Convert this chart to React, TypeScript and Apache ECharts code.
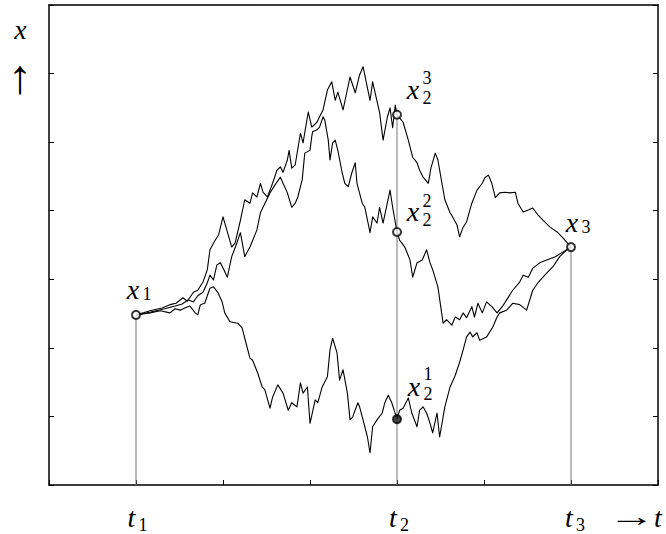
import { useEffect, useRef } from 'react';
import * as echarts from 'echarts';

// time axis: t1 = 1, t2 = 4, t3 = 6 ; vertical axis in tick units (ticks at 1..6)
const timeMarks = [1, 4, 6];
const timeMarkLabels = ['1', '2', '3'];

// the three sample paths from x1 (at t1) through x2^i (at t2) to x3 (at t3)
const pathUpper: number[][] = [
  [1.00, 2.48], [1.16, 2.54], [1.30, 2.58], [1.39, 2.63], [1.46, 2.65], [1.54, 2.73], [1.59, 2.68],
  [1.66, 2.81], [1.71, 2.84], [1.77, 2.96], [1.82, 3.14], [1.85, 3.43], [1.91, 3.57], [1.95, 3.65],
  [2.00, 3.91], [2.05, 3.69], [2.10, 3.47], [2.14, 3.53], [2.20, 3.86], [2.25, 4.16], [2.31, 4.11],
  [2.34, 4.26], [2.39, 4.20], [2.43, 4.40], [2.46, 4.27], [2.51, 4.20], [2.54, 4.30], [2.57, 4.40],
  [2.62, 4.59], [2.66, 4.64], [2.69, 4.56], [2.74, 4.74], [2.76, 4.88], [2.79, 4.62], [2.83, 4.67],
  [2.89, 5.13], [2.92, 4.99], [2.98, 5.44], [3.02, 5.22], [3.08, 5.29], [3.11, 5.37], [3.15, 5.47],
  [3.20, 5.76], [3.25, 5.88], [3.29, 5.61], [3.32, 5.73], [3.38, 5.47], [3.46, 5.95], [3.52, 5.72],
  [3.57, 5.98], [3.61, 6.10], [3.66, 5.79], [3.69, 5.61], [3.72, 5.88], [3.80, 5.43], [3.84, 5.03],
  [3.89, 5.37], [3.92, 5.50], [3.95, 5.21], [3.98, 5.54], [4.00, 5.40],
  [4.07, 5.29], [4.13, 5.03], [4.18, 4.78], [4.23, 4.70], [4.26, 4.59], [4.30, 4.49], [4.36, 4.40],
  [4.39, 4.62], [4.44, 4.84], [4.47, 4.74], [4.51, 4.45], [4.55, 4.16], [4.61, 3.97], [4.64, 3.91],
  [4.69, 3.79], [4.72, 3.62], [4.76, 3.76], [4.80, 3.84], [4.86, 4.11], [4.92, 4.30], [4.98, 4.40],
  [5.01, 4.48], [5.05, 4.52], [5.09, 4.40], [5.13, 4.19], [5.18, 4.26], [5.24, 4.27], [5.30, 4.26],
  [5.36, 4.27], [5.39, 4.11], [5.45, 3.98], [5.51, 4.01], [5.56, 4.04], [5.62, 3.94], [5.68, 3.86],
  [5.76, 3.76], [5.84, 3.69], [5.91, 3.60], [6.00, 3.47],
];

const pathMiddle: number[][] = [
  [1.00, 2.48], [1.16, 2.52], [1.33, 2.57], [1.45, 2.61], [1.53, 2.64], [1.60, 2.70], [1.66, 2.67],
  [1.71, 2.76], [1.77, 2.81], [1.82, 2.95], [1.85, 3.06], [1.89, 2.99], [1.93, 3.21], [1.97, 3.24],
  [2.01, 3.14], [2.05, 3.03], [2.10, 3.33], [2.16, 3.53], [2.20, 3.68], [2.25, 3.33], [2.31, 3.47],
  [2.39, 3.72], [2.43, 3.97], [2.46, 4.05], [2.54, 4.26], [2.60, 4.38], [2.66, 4.49], [2.69, 4.40],
  [2.74, 4.26], [2.79, 4.05], [2.83, 4.11], [2.86, 4.20], [2.91, 4.45], [2.94, 4.84], [3.00, 4.88],
  [3.02, 5.08], [3.03, 5.15], [3.08, 5.18], [3.11, 5.22], [3.15, 5.37], [3.17, 5.32], [3.21, 5.03],
  [3.23, 4.74], [3.26, 4.99], [3.29, 5.03], [3.32, 4.88], [3.37, 4.55], [3.40, 4.40], [3.44, 4.35],
  [3.48, 4.55], [3.52, 4.70], [3.54, 4.40], [3.60, 4.11], [3.63, 4.05], [3.69, 3.68], [3.72, 3.91],
  [3.77, 3.82], [3.80, 4.05], [3.84, 3.82], [3.92, 4.30], [3.95, 4.05], [4.00, 3.69],
  [4.03, 3.57], [4.09, 3.47], [4.15, 3.28], [4.18, 3.03], [4.23, 3.24], [4.29, 3.28], [4.34, 3.43],
  [4.38, 3.24], [4.41, 3.14], [4.47, 2.89], [4.53, 2.36], [4.57, 2.41], [4.63, 2.33], [4.67, 2.45],
  [4.72, 2.41], [4.76, 2.51], [4.80, 2.44], [4.86, 2.60], [4.89, 2.45], [4.93, 2.65], [4.98, 2.51],
  [5.03, 2.67], [5.09, 2.60], [5.15, 2.51], [5.21, 2.60], [5.28, 2.74], [5.33, 2.84], [5.41, 2.96],
  [5.45, 3.06], [5.51, 3.03], [5.56, 3.16], [5.64, 3.24], [5.72, 3.28], [5.82, 3.33], [5.91, 3.40],
  [6.00, 3.47],
];

const pathLower: number[][] = [
  [1.00, 2.48], [1.16, 2.51], [1.28, 2.54], [1.39, 2.51], [1.45, 2.57], [1.51, 2.55], [1.56, 2.58],
  [1.62, 2.61], [1.68, 2.51], [1.71, 2.48], [1.74, 2.63], [1.79, 2.65], [1.85, 2.87], [1.89, 2.89],
  [1.94, 2.81], [1.99, 2.67], [2.02, 2.51], [2.08, 2.38], [2.17, 2.36], [2.22, 2.29], [2.25, 2.14],
  [2.31, 1.85], [2.34, 1.82], [2.40, 1.63], [2.45, 1.43], [2.48, 1.39], [2.54, 1.12], [2.57, 1.28],
  [2.63, 1.46], [2.69, 1.34], [2.75, 1.09], [2.79, 1.20], [2.85, 1.14], [2.89, 1.49], [2.92, 1.34],
  [2.97, 1.43], [3.00, 0.90], [3.06, 1.24], [3.09, 1.20], [3.14, 1.43], [3.20, 1.58], [3.23, 1.97],
  [3.26, 2.14], [3.31, 1.93], [3.34, 1.53], [3.38, 1.68], [3.43, 1.34], [3.46, 0.95], [3.49, 0.99],
  [3.55, 1.20], [3.57, 1.14], [3.61, 0.95], [3.66, 0.70], [3.69, 0.47], [3.72, 0.85], [3.77, 0.95],
  [3.83, 1.05], [3.86, 1.20], [3.90, 1.31], [3.94, 1.20], [4.00, 0.96],
  [4.03, 1.09], [4.07, 1.12], [4.13, 1.27], [4.17, 1.05], [4.23, 0.85], [4.26, 1.09], [4.30, 1.14],
  [4.34, 1.05], [4.38, 0.90], [4.41, 0.76], [4.46, 1.05], [4.49, 0.70], [4.55, 1.14], [4.61, 1.43],
  [4.67, 1.60], [4.72, 1.79], [4.76, 1.97], [4.80, 2.16], [4.84, 2.23], [4.87, 2.16], [4.92, 2.22],
  [4.95, 2.11], [5.03, 2.16], [5.10, 2.30], [5.15, 2.45], [5.18, 2.51], [5.26, 2.55], [5.33, 2.65],
  [5.41, 2.63], [5.49, 2.55], [5.56, 2.84], [5.62, 2.95], [5.72, 3.09], [5.79, 3.18], [5.87, 3.33],
  [5.95, 3.43], [6.00, 3.47],
];

// marked states x1, x2^3, x2^2, x2^1, x3
const markTimes = [1, 4, 4, 4, 6];
const markValues = [2.48, 5.40, 3.69, 0.96, 3.47];
const markFilled = [false, false, false, true, false];

// vertical guides from the time axis up to the highest marked state at each time
const guideTimes = [1, 4, 6];
const guideTops = [2.48, 5.40, 3.47];

type FontSpec = { family: string; size: number; style: string };
const serifItalic: FontSpec = { family: 'Liberation Serif', size: 28, style: 'italic' };
const serifSmall: FontSpec = { family: 'Liberation Serif', size: 18, style: 'normal' };
const arrowUpFont: FontSpec = { family: 'Liberation Serif', size: 48, style: 'normal' };
const arrowRightFont: FontSpec = { family: 'Liberation Serif', size: 28, style: 'normal' };

function txt(text: string, x: number, y: number, f: FontSpec, scaleX = 1) {
  return {
    type: 'text',
    x,
    y,
    scaleX,
    silent: true,
    style: {
      text,
      fontFamily: f.family,
      fontSize: f.size,
      fontStyle: f.style,
      fill: '#000',
      align: 'center',
      verticalAlign: 'middle',
    },
  };
}

export default function App() {
  const ref = useRef<HTMLDivElement>(null);

  useEffect(() => {
    document.body.style.margin = '0';
    if (!ref.current) return;
    const chart = echarts.init(ref.current, undefined, { renderer: 'svg' });

    const axisBase = {
      type: 'value',
      min: 0,
      max: 7,
      interval: 1,
      axisLine: { show: true, onZero: false, lineStyle: { color: '#000', width: 1.5 } },
      axisTick: { show: true, inside: true, length: 5, lineStyle: { color: '#000', width: 1 } },
      axisLabel: { show: false },
      splitLine: { show: false },
    };

    const guideSeries = guideTimes.map((t, i) => ({
      type: 'line',
      data: [[t, 0], [t, guideTops[i]]],
      symbol: 'none',
      silent: true,
      z: 1,
      lineStyle: { color: '#777', width: 1 },
    }));

    const pathSeries = [pathUpper, pathMiddle, pathLower].map((p) => ({
      type: 'line',
      data: p,
      symbol: 'none',
      silent: true,
      z: 2,
      lineStyle: { color: '#000', width: 1.1, join: 'round' },
    }));

    const markSeries = {
      type: 'scatter',
      z: 3,
      symbol: 'circle',
      symbolSize: 8,
      silent: true,
      data: markTimes.map((t, i) => ({
        value: [t, markValues[i]],
        itemStyle: {
          color: markFilled[i] ? '#222' : '#fff',
          borderColor: '#000',
          borderWidth: 2,
        },
      })),
    };

    const bottomLabels: any[] = [];
    const tCenters = [131.5, 393, 569];
    timeMarks.forEach((_, i) => {
      bottomLabels.push(txt('t', tCenters[i], 517, serifItalic));
      bottomLabels.push(txt(timeMarkLabels[i], tCenters[i] + 11.5, 525, serifSmall));
    });

    const graphic = [
      txt('x', 20.5, 29, serifItalic),
      txt('↑', 20, 76, arrowUpFont),
      txt('→', 632, 516, arrowRightFont, 1.7),
      txt('t', 658, 517, serifItalic),
      ...bottomLabels,
      // x1
      txt('x', 133, 289, serifItalic),
      txt('1', 147, 294, serifSmall),
      // x2^3
      txt('x', 413, 89, serifItalic),
      txt('3', 427, 78, serifSmall),
      txt('2', 427, 98, serifSmall),
      // x2^2
      txt('x', 413, 211, serifItalic),
      txt('2', 427, 200.5, serifSmall),
      txt('2', 427, 220, serifSmall),
      // x2^1
      txt('x', 414, 386, serifItalic),
      txt('1', 428, 374, serifSmall),
      txt('2', 428, 393.5, serifSmall),
      // x3
      txt('x', 572, 222, serifItalic),
      txt('3', 586, 227, serifSmall),
    ];

    chart.setOption({
      animation: false,
      backgroundColor: '#fff',
      grid: { left: 49, right: 8, top: 5, bottom: 49, containLabel: false },
      xAxis: [
        { ...axisBase, position: 'bottom' },
        { ...axisBase, position: 'top', axisTick: { show: false } },
      ],
      yAxis: [
        { ...axisBase, position: 'left' },
        { ...axisBase, position: 'right' },
      ],
      series: [...guideSeries, ...pathSeries, markSeries],
      graphic,
    });

    return () => chart.dispose();
  }, []);

  return <div ref={ref} style={{ width: 666, height: 534 }} />;
}
